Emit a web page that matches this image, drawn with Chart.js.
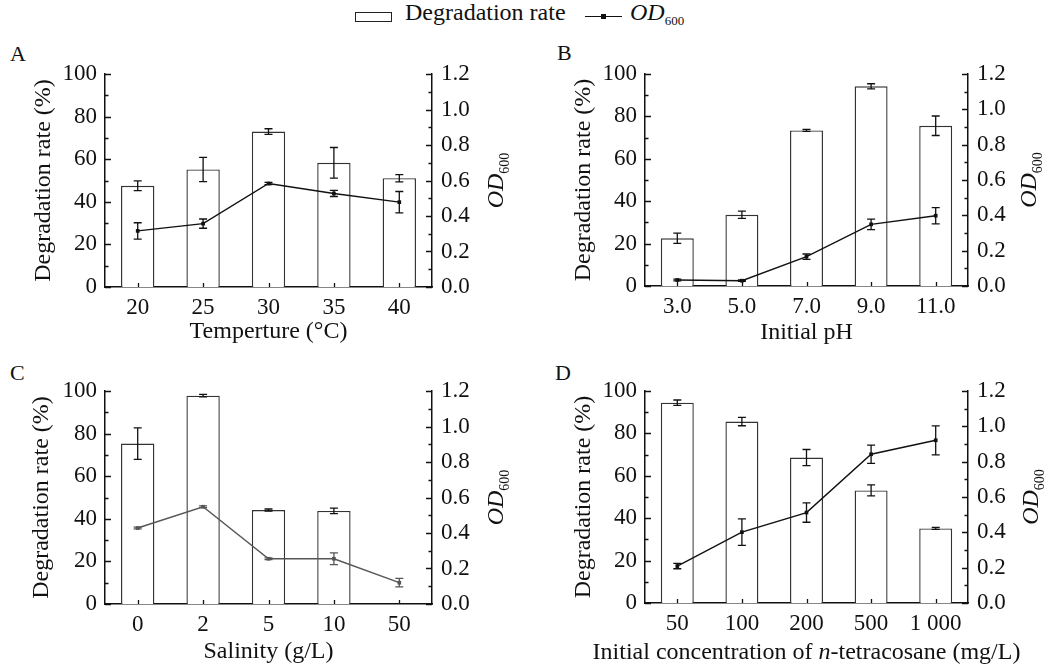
<!DOCTYPE html>
<html>
<head>
<meta charset="utf-8">
<script src="https://cdn.jsdelivr.net/npm/chart.js@4.4.1/dist/chart.umd.min.js"></script>
<style>
  body { margin: 0; background: #fff; width: 1057px; height: 667px; position: relative; overflow: hidden; color: #111; }
  canvas { position: absolute; }
  .abs { position: absolute; line-height: 1; white-space: nowrap; font-family: "Liberation Serif", serif; }
  .letter { font-size: 22px; }
</style>
</head>
<body>
<!-- legend -->
<div class="abs" style="left:355px;top:12px;width:35px;height:8px;border:1.2px solid #222;"></div>
<div class="abs" style="left:405px;top:0px;font-size:24px;">Degradation rate</div>
<div class="abs" style="left:585px;top:16px;width:37px;height:0;border-top:1.4px solid #111;"></div>
<div class="abs" style="left:601px;top:14px;width:5px;height:5px;background:#111;"></div>
<div class="abs" style="left:630px;top:0px;font-size:24px;"><i>OD</i><span style="font-size:13px;position:relative;top:5px;">600</span></div>

<div class="abs letter" style="left:10px;top:43px;">A</div>
<div class="abs letter" style="left:557px;top:42px;">B</div>
<div class="abs letter" style="left:10px;top:362px;">C</div>
<div class="abs letter" style="left:555px;top:362px;">D</div>

<canvas id="cA" style="left:0;top:40px" width="520" height="314"></canvas>
<canvas id="cB" style="left:520px;top:40px" width="537" height="314"></canvas>
<canvas id="cC" style="left:0;top:354px" width="520" height="313"></canvas>
<canvas id="cD" style="left:520px;top:354px" width="537" height="313"></canvas>

<script>
// A: temperature
const tempLabels = ["20", "25", "30", "35", "40"];
const tempRate = [47.5, 55.2, 73.0, 58.3, 51.1];
const tempRateErr = [2.3, 5.7, 1.3, 7.2, 1.7];
const tempOD = [0.316, 0.357, 0.583, 0.527, 0.478];
const tempODErr = [0.046, 0.026, 0.006, 0.017, 0.06];

// B: initial pH
const phLabels = ["3.0", "5.0", "7.0", "9.0", "11.0"];
const phRate = [22.5, 33.6, 73.4, 94.2, 75.6];
const phRateErr = [2.4, 1.7, 0.5, 1.2, 4.6];
const phOD = [0.034, 0.030, 0.166, 0.349, 0.398];
const phODErr = [0.005, 0.004, 0.015, 0.03, 0.046];

// C: salinity
const salLabels = ["0", "2", "5", "10", "50"];
const salRate = [75.3, 97.8, 44.1, 43.7, null];
const salRateErr = [7.4, 0.6, 0.5, 1.3, null];
const salOD = [0.428, 0.548, 0.255, 0.255, 0.120];
const salODErr = [0.005, 0.005, 0.005, 0.033, 0.024];

// D: initial n-tetracosane concentration
const concLabels = ["50", "100", "200", "500", "1 000"];
const concRate = [94.5, 85.6, 68.6, 53.1, 35.2];
const concRateErr = [1.25, 2.0, 3.8, 2.6, 0.5];
const concOD = [0.209, 0.401, 0.512, 0.842, 0.921];
const concODErr = [0.015, 0.075, 0.055, 0.052, 0.082];

const rateTicks = { min: 0, max: 100, step: 20 };
const odTicks = { min: 0, max: 1.2, step: 0.2 };

const FONT = '"Liberation Serif", serif';
Chart.defaults.font.family = FONT;
Chart.defaults.color = "#111";

// text with italic / subscript pieces, optionally rotated
function drawRich(ctx, parts, x, y, rotate, size) {
  ctx.save();
  ctx.translate(x, y);
  if (rotate) ctx.rotate(-Math.PI / 2);
  const fonts = parts.map(p => (p.italic ? "italic " : "") + (p.sub ? Math.round(size * 0.6) : size) + "px " + FONT);
  let total = 0;
  parts.forEach((p, i) => { ctx.font = fonts[i]; total += ctx.measureText(p.t).width; });
  let cx = -total / 2;
  ctx.fillStyle = "#111";
  ctx.textBaseline = "alphabetic";
  ctx.textAlign = "left";
  parts.forEach((p, i) => {
    ctx.font = fonts[i];
    ctx.fillText(p.t, cx, size * 0.34 + (p.sub ? size * 0.24 : 0));
    cx += ctx.measureText(p.t).width;
  });
  ctx.restore();
}

const decorPlugin = {
  id: "decor",
  afterDatasetsDraw(chart) {
    const ctx = chart.ctx;
    ctx.save();
    ctx.lineWidth = 1.3;
    chart.data.datasets.forEach((ds, i) => {
      if (!ds.errors) return;
      const meta = chart.getDatasetMeta(i);
      const sc = chart.scales[meta.yAxisID];
      ctx.strokeStyle = ds.errColor || "#111";
      meta.data.forEach((el, j) => {
        const v = ds.data[j], e = ds.errors[j];
        if (v == null || e == null) return;
        const x = el.x;
        const t = sc.getPixelForValue(v + e), b = sc.getPixelForValue(v - e);
        ctx.beginPath();
        ctx.moveTo(x, t); ctx.lineTo(x, b);
        ctx.moveTo(x - 4, t); ctx.lineTo(x + 4, t);
        ctx.moveTo(x - 4, b); ctx.lineTo(x + 4, b);
        ctx.stroke();
      });
    });
    ctx.restore();
  },
  afterDraw(chart) {
    const ctx = chart.ctx;
    const o = chart.options.plugins.decor;
    const a = chart.chartArea;
    const y = chart.scales.y, y1 = chart.scales.y1, x = chart.scales.x;
    ctx.save();
    ctx.strokeStyle = "#111";
    ctx.lineWidth = 1.3;
    ctx.beginPath();
    for (let v = rateTicks.min; v <= rateTicks.max; v += rateTicks.step / 2) {
      const py = Math.round(y.getPixelForValue(v)) + 0.5;
      const len = v % rateTicks.step === 0 ? 6 : 3.5;
      ctx.moveTo(a.left, py); ctx.lineTo(a.left + len, py);
    }
    for (let k = 0; k <= 12; k++) {
      const py = Math.round(y1.getPixelForValue(k / 10)) + 0.5;
      const len = k % 2 === 0 ? 6 : 3.5;
      ctx.moveTo(a.right, py); ctx.lineTo(a.right - len, py);
    }
    chart.data.labels.forEach((_, i) => {
      const px = Math.round(x.getPixelForValue(i)) + 0.5;
      ctx.moveTo(px, a.bottom); ctx.lineTo(px, a.bottom - 4);
    });
    ctx.stroke();
    ctx.restore();

    const midY = (a.top + a.bottom) / 2;
    drawRich(ctx, [{ t: "Degradation rate (%)" }], o.leftTitleX, midY, true, 24);
    drawRich(ctx, [{ t: "OD", italic: true }, { t: "600", sub: true }], o.rightTitleX, midY, true, 24);
    drawRich(ctx, o.xTitle, (a.left + a.right) / 2, o.xTitleY, false, 24);
  }
};

function makePanel(id, cfg) {
  const tickFont = { family: FONT, size: 23 };
  new Chart(document.getElementById(id), {
    data: {
      labels: cfg.labels,
      datasets: [
        {
          type: "line",
          data: cfg.od,
          errors: cfg.odErr,
          errColor: cfg.lineColor,
          yAxisID: "y1",
          order: 0,
          borderColor: cfg.lineColor,
          borderWidth: 1.4,
          pointStyle: "rect",
          pointRadius: 2.6,
          pointBackgroundColor: cfg.lineColor,
          pointBorderColor: cfg.lineColor,
          pointBorderWidth: 0,
          tension: 0
        },
        {
          type: "bar",
          data: cfg.rate,
          errors: cfg.rateErr,
          yAxisID: "y",
          order: 1,
          backgroundColor: "#fff",
          borderColor: "#333",
          borderWidth: 1.4,
          barPercentage: 0.51,
          categoryPercentage: 1
        }
      ]
    },
    options: {
      responsive: false,
      animation: false,
      layout: { padding: { top: cfg.top, left: 0, right: 0, bottom: 0 } },
      plugins: {
        legend: { display: false },
        tooltip: { enabled: false },
        decor: { leftTitleX: cfg.leftTitleX, rightTitleX: cfg.rightTitleX, xTitle: cfg.xTitle, xTitleY: cfg.xTitleY }
      },
      scales: {
        x: {
          grid: { display: false, drawTicks: false },
          border: { display: true, color: "#111", width: 1.5 },
          ticks: { color: "#111", font: tickFont, padding: 7, maxRotation: 0, autoSkip: false },
          afterFit: s => { s.height = cfg.bottom; }
        },
        y: {
          position: "left",
          min: rateTicks.min, max: rateTicks.max,
          grid: { display: false, drawTicks: false },
          border: { display: true, color: "#111", width: 1.5 },
          ticks: { stepSize: rateTicks.step, color: "#111", font: tickFont, padding: 8 },
          afterFit: s => { s.width = cfg.left; }
        },
        y1: {
          position: "right",
          min: odTicks.min, max: odTicks.max,
          grid: { display: false, drawTicks: false },
          border: { display: true, color: "#111", width: 1.5 },
          ticks: { stepSize: odTicks.step, color: "#111", font: tickFont, padding: 9,
                   callback: v => Number(v).toFixed(1) },
          afterFit: s => { s.width = cfg.right; }
        }
      }
    },
    plugins: [decorPlugin]
  });
}

makePanel("cA", {
  labels: tempLabels, rate: tempRate, rateErr: tempRateErr, od: tempOD, odErr: tempODErr,
  lineColor: "#111", top: 34, left: 105, right: 88, bottom: 67,
  leftTitleX: 42, rightTitleX: 495, xTitleY: 290, xTitle: [{ t: "Temperture (°C)" }]
});
makePanel("cB", {
  labels: phLabels, rate: phRate, rateErr: phRateErr, od: phOD, odErr: phODErr,
  lineColor: "#111", top: 34, left: 125, right: 89, bottom: 68,
  leftTitleX: 62, rightTitleX: 508, xTitleY: 291, xTitle: [{ t: "Initial pH" }]
});
makePanel("cC", {
  labels: salLabels, rate: salRate, rateErr: salRateErr, od: salOD, odErr: salODErr,
  lineColor: "#555", top: 37, left: 105, right: 88, bottom: 63,
  leftTitleX: 40, rightTitleX: 495, xTitleY: 296, xTitle: [{ t: "Salinity (g/L)" }]
});
makePanel("cD", {
  labels: concLabels, rate: concRate, rateErr: concRateErr, od: concOD, odErr: concODErr,
  lineColor: "#111", top: 37, left: 125, right: 89, bottom: 64,
  leftTitleX: 62, rightTitleX: 510, xTitleY: 297,
  xTitle: [{ t: "Initial concentration of " }, { t: "n", italic: true }, { t: "-tetracosane (mg/L)" }]
});
</script>
</body>
</html>
